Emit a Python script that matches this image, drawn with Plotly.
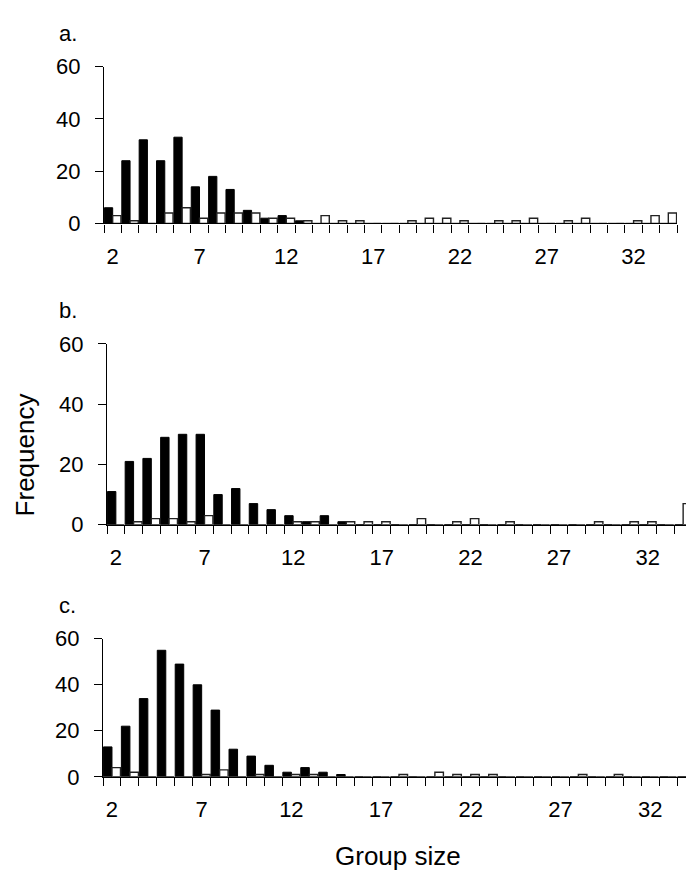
import plotly.graph_objects as go

group_size = list(range(2, 35))
tick_labels = [2, 7, 12, 17, 22, 27, 32]

# panel a
a_black = [6, 24, 32, 24, 33, 14, 18, 13, 5, 2, 3, 1, 0, 0, 0, 0, 0, 0, 0, 0, 0, 0, 0, 0, 0, 0, 0, 0, 0, 0, 0, 0, 0]
a_white = [3, 1, 0, 4, 6, 2, 4, 4, 4, 2, 2, 1, 3, 1, 1, 0, 0, 1, 2, 2, 1, 0, 1, 1, 2, 0, 1, 2, 0, 0, 1, 3, 4]
# panel b
b_black = [11, 21, 22, 29, 30, 30, 10, 12, 7, 5, 3, 1, 3, 1, 0, 0, 0, 0, 0, 0, 0, 0, 0, 0, 0, 0, 0, 0, 0, 0, 0, 0, 0]
b_white = [0, 1, 2, 2, 1, 3, 0, 0, 0, 0, 1, 1, 0, 1, 1, 1, 0, 2, 0, 1, 2, 0, 1, 0, 0, 0, 0, 1, 0, 1, 1, 0, 7]
# panel c
c_black = [13, 22, 34, 55, 49, 40, 29, 12, 9, 5, 2, 4, 2, 1, 0, 0, 0, 0, 0, 0, 0, 0, 0, 0, 0, 0, 0, 0, 0, 0, 0, 0, 0]
c_white = [4, 2, 0, 0, 0, 1, 3, 0, 1, 0, 1, 1, 0, 0, 0, 0, 1, 0, 2, 1, 1, 1, 0, 0, 0, 0, 1, 0, 1, 0, 0, 0, 0]

panels = [
    ("a.", a_black, a_white),
    ("b.", b_black, b_white),
    ("c.", c_black, c_white),
]

W, H = 694, 889
# pixel layout: (x_left, x_right, y_zero, y_sixty)
layout_px = [
    (96, 669, 209.3, 48.0),
    (99, 684, 519.3, 333.3),
    (95, 687, 778.7, 636.7),
]

fig = go.Figure()
FONT = "Liberation Sans, Arial, sans-serif"

for i, (lab, blk, wht) in enumerate(panels):
    n = i + 1
    xa = "x" if n == 1 else f"x{n}"
    ya = "y" if n == 1 else f"y{n}"
    fig.add_trace(go.Bar(x=group_size, y=blk, xaxis=xa, yaxis=ya,
                         marker=dict(color="black", line=dict(color="black", width=1)),
                         showlegend=False, offsetgroup="b"))
    fig.add_trace(go.Bar(x=group_size, y=wht, xaxis=xa, yaxis=ya,
                         marker=dict(color="white", line=dict(color="#222", width=1.4)),
                         showlegend=False, offsetgroup="w"))
    xl, xr, y0, y60 = layout_px[i]
    xkey = "xaxis" if n == 1 else f"xaxis{n}"
    ykey = "yaxis" if n == 1 else f"yaxis{n}"
    fig.update_layout(**{
        xkey: dict(domain=[xl / W, xr / W], anchor=ya, range=[1.5, 34.5],
                   tickmode="array", tickvals=tick_labels, ticktext=[str(t) for t in tick_labels],
                   ticks="", showline=True, linecolor="black", linewidth=1.4,
                   showgrid=False, zeroline=False,
                   tickfont=dict(family=FONT, size=22, color="black"),
                   ticklabelstandoff=13,
                   minor=dict(tick0=1.5, dtick=1, ticks="outside", ticklen=8,
                              tickcolor="black", tickwidth=1.4, showgrid=False)),
        ykey: dict(domain=[1 - y0 / H, 1 - y60 / H], anchor=xa, range=[0, 60],
                   tickvals=[0, 20, 40, 60], ticks="outside", ticklen=8,
                   tickcolor="black", tickwidth=1.4,
                   showline=True, linecolor="black", linewidth=1.4,
                   showgrid=False, zeroline=False,
                   tickfont=dict(family=FONT, size=22, color="black"),
                   ticklabelstandoff=10),
    })
    fig.add_annotation(text=lab, xref="paper", yref="paper", x=49 / W,
                       y=1 - (y60 - 34) / H, xanchor="left", yanchor="middle",
                       showarrow=False, font=dict(family=FONT, size=22, color="black"))

fig.add_annotation(text="Frequency", xref="paper", yref="paper", x=17 / W, y=1 - 448 / H,
                   textangle=-90, showarrow=False, xanchor="center", yanchor="middle",
                   font=dict(family=FONT, size=26, color="black"))
fig.add_annotation(text="Group size", xref="paper", yref="paper", x=390 / W, y=1 - 860 / H,
                   showarrow=False, xanchor="center", yanchor="middle",
                   font=dict(family=FONT, size=26, color="black"))

fig.update_layout(width=W, height=H, margin=dict(l=0, r=0, t=0, b=0),
                  barmode="group", bargap=0.05, bargroupgap=0,
                  plot_bgcolor="white", paper_bgcolor="white")

fig.write_html("out.html")
